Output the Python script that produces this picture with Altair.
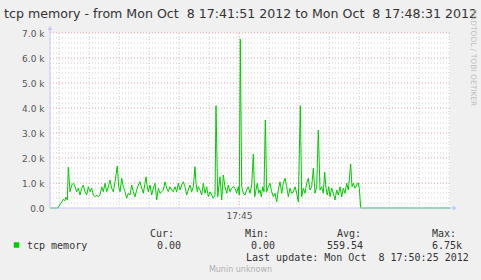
import altair as alt
import pandas as pd

# seconds after 17:41:51 and tcp memory values (in thousands)
secs = [0, 8, 10.7, 12, 13.3, 14.7, 16, 17.3, 18.3, 20, 21.7, 23.3, 25, 26.7, 28.3, 30, 31.7, 33.3, 35, 36.7,
        38.3, 40, 41.7, 43.3, 45, 46.7, 48.3, 50, 51.7, 53.3, 55, 56.7, 58.3, 60, 61.7, 63.3, 65, 67.3, 68.7, 70,
        71.7, 73.3, 75, 76.7, 78.3, 80, 81.7, 83.3, 85, 86.7, 88.3, 90, 91.7, 93.3, 95, 96, 97.3, 98.3, 100, 101.7,
        103.3, 105, 106.7, 108.3, 110, 111.7, 113.3, 115, 116.7, 118.3, 120, 121.7, 123.3, 125, 126.7, 128.3, 130,
        131.7, 133.3, 135, 136.7, 138.3, 140, 141.7, 143.3, 145, 146, 147.3, 148.3, 150, 151.7, 153.3, 155, 156.7,
        158.3, 160, 161.7, 163.3, 165, 166, 167.7, 170, 171.7, 173.3, 175, 176.7, 178.3, 180, 181.7, 183.3,
        185, 186.7, 188.3, 189.3, 190.3, 191.7, 193.3, 195, 196.7, 198.3,
        200, 201.7, 203.3, 204.7, 206, 207.3, 208.7, 210, 211.3, 212.7,
        214, 215.3, 216.7, 218.3, 220, 221.7, 223.3, 225, 226.7, 228.3,
        230, 231.7, 233.3, 235, 236.7, 238.3, 240, 241.7, 243.3, 245,
        246.7, 248.3, 250.3, 251.7, 253.3, 255, 256.7, 258.3, 260, 261.7,
        263.3, 265, 266.7, 268.3, 270, 271.7, 273.3, 274.7, 276, 277.3,
        278.7, 280, 281.7, 283.3, 285, 286.7, 288.3, 290, 291.7, 293.3,
        295, 296.7, 298.3, 300.7, 302, 303.3, 305, 306.7, 308.3, 309.3,
        310.7, 400]
tcp_k = [0, 0, 0.19, 0.25, 0.35, 0.29, 0.43, 0.32, 1.63, 0.65, 0.92, 0.99, 0.85, 0.65, 0.79, 0.52, 0.79, 0.92, 0.65, 0.52,
         0.85, 0.65, 0.79, 0.52, 0.45, 0.52, 0.45, 0.52, 0.85, 0.65, 0.99, 0.65, 0.85, 1.12, 0.79, 0.65, 1.05, 1.68, 0.85, 0.65,
         1.19, 0.85, 0.65, 0.39, 0.59, 0.52, 0.92, 0.65, 0.45, 0.72, 0.92, 1.05, 0.79, 0.59, 0.99, 1.25, 0.85, 0.65, 0.92, 0.52,
         0.79, 0.99, 0.32, 0.79, 0.59, 0.65, 0.72, 1.05, 0.79, 0.65, 0.85, 0.72, 0.65, 0.85, 0.65, 0.99, 0.72, 0.92, 1.05, 0.85,
         0.52, 0.72, 0.92, 0.65, 0.85, 1.65, 0.99, 0.65, 0.85, 0.72, 0.52, 0.99, 0.59, 0.85, 0.45, 0.65, 0.52, 0.39, 0.52, 4.09,
         0.45, 1.25, 0.32, 1.32, 0.85, 0.59, 0.92, 0.65, 0.79, 0.85,
         0.79, 0.59, 0.85, 0.52, 6.75, 0.85, 0.59, 0.52, 0.72, 0.85,
         0.59, 0.92, 2.15, 0.45, 0.72, 0.99, 0.59, 0.72, 0.45, 0.85,
         0.65, 3.52, 0.65, 0.85, 0.99, 0.65, 0.45, 0.59, 0.25, 0.72,
         1.05, 0.59, 0.99, 1.19, 0.85, 0.45, 0.79, 0.59, 0.65, 0.85,
         0.59, 0.25, 4.09, 0.45, 0.79, 0.59, 0.99, 1.19, 0.72, 0.85,
         1.59, 0.59, 0.85, 3.12, 0.72, 0.85, 0.59, 1.43, 0.79, 0.52,
         0.85, 0.45, 0.79, 0.59, 0.32, 0.72, 0.52, 0.85, 0.45, 0.79,
         0.59, 0.99, 0.72, 1.76, 0.85, 0.99, 0.79, 0.92, 1.01, 0.79,
         0, 0]

title_text = "tcp memory - from Mon Oct\u00a0 8 17:41:51 2012 to Mon Oct\u00a0 8 17:48:31 2012"
series_name = "tcp memory"
stat_headers = ["Cur:", "Min:", "Avg:", "Max:"]
stat_values = ["0.00", "0.00", "559.54", "6.75k"]
last_update = "Last update: Mon Oct\u00a0 8 17:50:25 2012"
footer = "Munin unknown"
watermark = "RRDTOOL / TOBI OETIKER"

y_ticks = [0, 1000, 2000, 3000, 4000, 5000, 6000, 7000]
x_tick_secs = [189]  # 17:45:00

W, H = 400, 175
PL, PT = 50, 33
GREEN = "#00cc00"
AXIS = "#c4c4ff"

df = pd.DataFrame({"t": secs, "v": [v * 1000 for v in tcp_k]})

xs = alt.Scale(domain=[0, 400], nice=False, zero=False)
ys = alt.Scale(domain=[0, 7000], nice=False)

x_axis = alt.Axis(
    values=x_tick_secs, title=None, grid=False, domain=False, ticks=False,
    labelExpr="utcFormat(utc(2012,9,8,17,41,51) + datum.value*1000, '%H:%M')",
    labelFont="DejaVu Sans", labelFontSize=9, labelColor="#555555", labelPadding=3)
y_axis = alt.Axis(
    values=y_ticks, title=None, grid=False, domain=False, ticks=False,
    labelExpr="datum.value == 0 ? '0.0' : format(datum.value/1000, '.1f') + ' k'",
    labelFont="DejaVu Sans", labelFontSize=9, labelColor="#555555", labelPadding=6)

minor_h = [v for v in range(200, 7001, 200) if v % 1000]
major_h = list(range(1000, 7001, 1000))
minor_v = [t for t in range(9, 400, 30) if t not in x_tick_secs]


def hrules(vals, color):
    return alt.Chart(pd.DataFrame({"v": vals})).mark_rule(
        color=color, strokeDash=[1, 2], strokeWidth=1
    ).encode(y=alt.Y("v:Q", scale=ys, axis=y_axis))


def vrules(vals, color):
    return alt.Chart(pd.DataFrame({"t": vals})).mark_rule(
        color=color, strokeDash=[1, 2], strokeWidth=1
    ).encode(x=alt.X("t:Q", scale=xs, axis=x_axis))


def txt(s, x, y, size=10, font="DejaVu Sans Mono", color="#333333", align="left", angle=None):
    kw = dict(font=font, fontSize=size, color=color, align=align, baseline="middle")
    if angle is not None:
        kw["angle"] = angle
    return alt.Chart(pd.DataFrame({"s": [s]})).mark_text(**kw).encode(
        x=alt.value(x - PL), y=alt.value(y - PT), text="s:N"
    )


line = alt.Chart(df).mark_line(color=GREEN, strokeWidth=1).encode(
    x=alt.X("t:Q", scale=xs, axis=x_axis),
    y=alt.Y("v:Q", scale=ys, axis=y_axis),
)

one = pd.DataFrame({"a": [0]})
yaxis = alt.Chart(one).mark_rule(color=AXIS, strokeWidth=1).encode(
    x=alt.value(0), y=alt.value(-5), y2=alt.value(H))
xaxis = alt.Chart(one).mark_rule(color=AXIS, strokeWidth=1).encode(
    x=alt.value(0), x2=alt.value(W + 5), y=alt.value(H))
yarrow = alt.Chart(one).mark_point(shape="triangle-up", filled=True, color=AXIS, size=22, opacity=1).encode(
    x=alt.value(0), y=alt.value(-5))
xarrow = alt.Chart(one).mark_point(shape="triangle-right", filled=True, color=AXIS, size=22, opacity=1).encode(
    x=alt.value(W + 5), y=alt.value(H))

texts = [
    txt(title_text, 240.5, 14, size=12.6, font="DejaVu Sans", color="#333333", align="center"),
    txt(watermark, 473, 58, size=7.5, font="DejaVu Sans", color="#c0c0c0", align="center", angle=90),
    txt(series_name, 27, 246),
]
legend_sq = alt.Chart(one).mark_square(color=GREEN, size=30, opacity=1).encode(
    x=alt.value(16.5 - PL), y=alt.value(245 - PT))
hx = [150, 245, 337, 432]
vx = [157, 251, 327, 432]
for h, x in zip(stat_headers, hx):
    texts.append(txt(h, x, 234))
for v, x in zip(stat_values, vx):
    texts.append(txt(v, x, 246))
texts.append(txt(last_update, 246, 257.5))
texts.append(txt(footer, 240.5, 269.5, size=8, font="DejaVu Sans", color="#b0b0b0", align="center"))

chart = alt.layer(
    hrules(minor_h, "#d0d0d0"), vrules(minor_v, "#d0d0d0"),
    hrules(major_h, "#e0a0a0"), vrules(x_tick_secs, "#e0a0a0"),
    line, yaxis, xaxis, yarrow, xarrow, legend_sq, *texts
).properties(
    width=W, height=H,
    padding={"left": PL, "top": PT, "right": 481 - PL - W, "bottom": 280 - PT - H},
    autosize=alt.AutoSizeParams(type="none"),
    background="#f0f0f0",
).configure_view(fill="white", stroke=None)

chart.save("out.html", embed_options={"renderer": "svg", "actions": False})
